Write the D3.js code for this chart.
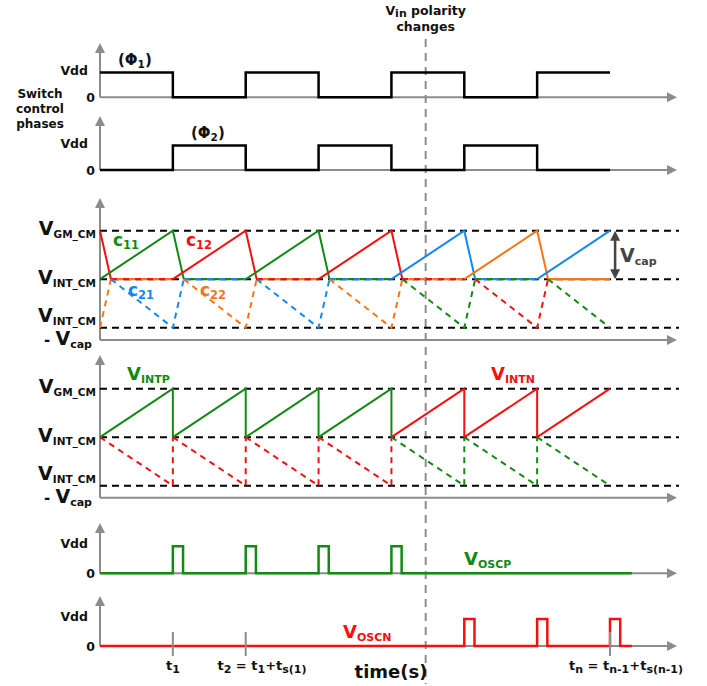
<!DOCTYPE html>
<html><head><meta charset="utf-8">
<script src="https://cdn.jsdelivr.net/npm/d3@7"></script>
<style>body{margin:0;background:#fff} svg{display:block} text{font-family:"DejaVu Sans",sans-serif;font-weight:bold}</style>
</head><body><svg id="c" width="707" height="686"></svg>
<script>
// ---------------- data ----------------
const tEnd = 7;
const phi1Levels = [1,0,1,0,1,0,1];
const phi2Levels = [0,1,0,1,0,1,0];
const capUpperInit = "c12";
const capLowerInit = "c22";
const capUpperSeries = ["c11","c12","c11","c12","c21","c22","c21"];
const capLowerSeries = ["c21","c22","c21","c22","c11","c12","c11"];
const capIdleSeries = [["c12","c22"],["c21","c11"],["c12","c22"],["c21","c11"],["c12","c22"],["c11","c21"],["c22"]];
const intSeries = ["VINTP","VINTP","VINTP","VINTP","VINTN","VINTN","VINTN"];
const oscpPulses = [1,2,3,4];
const oscnPulses = [5,6,7];
const pulseWidth = 0.14;
const resetWidth = 0.15;
const oscEnd = 7.3;
const polarityChange = 4.47;
const tickTimes = [1,2,7];
const colors = {c11:"#138a13", c12:"#f51010", c21:"#1487f0", c22:"#fa7414", VINTP:"#138a13", VINTN:"#f51010"};
const opposite = {VINTP:"VINTN", VINTN:"VINTP"};

// ---------------- setup ----------------
const svg = d3.select("#c");
const x = d3.scaleLinear().domain([0, tEnd]).range([100, 610]);
const X0 = x(0), XAXIS = 677;
const AX = "#8c8c8c";
const line = d3.line().x(d => x(d[0])).y(d => d[1]);

function rich(x0, y0, anchor, parts, color) {
  const t = svg.append("text").attr("x", x0).attr("y", y0).attr("text-anchor", anchor).attr("fill", color || "#111");
  let shift = 0;
  parts.forEach(p => {
    const target = p.sub ? (p.dy || 3.5) : 0;
    t.append("tspan").attr("font-size", p.s).attr("dy", target - shift).text(p.t);
    shift = target;
  });
  return t;
}
function axes(yAxis, top) {
  svg.append("line").attr("x1", X0).attr("x2", X0).attr("y1", top + 8).attr("y2", yAxis).attr("stroke", AX).attr("stroke-width", 2);
  svg.append("path").attr("d", `M${X0},${top} L${X0-5},${top+10} L${X0+5},${top+10} Z`).attr("fill", AX);
  svg.append("line").attr("x1", X0).attr("x2", XAXIS - 8).attr("y1", yAxis).attr("y2", yAxis).attr("stroke", AX).attr("stroke-width", 2);
  svg.append("path").attr("d", `M${XAXIS},${yAxis} L${XAXIS-10},${yAxis-5} L${XAXIS-10},${yAxis+5} Z`).attr("fill", AX);
}
function path(pts, color, w, dash, offset) {
  const p = svg.append("path").attr("d", line(pts)).attr("fill", "none").attr("stroke", color).attr("stroke-width", w || 2)
    .attr("stroke-linejoin", "miter");
  if (dash) p.attr("stroke-dasharray", dash).attr("stroke-dashoffset", offset || 0);
  return p;
}

// polarity dashed line (behind)
svg.append("line").attr("x1", x(polarityChange)).attr("x2", x(polarityChange)).attr("y1", 39).attr("y2", 684)
  .attr("stroke", "#8c8c8c").attr("stroke-width", 2).attr("stroke-dasharray", "8,6");
rich(x(polarityChange), 15, "middle", [{t:"V", s:12.5}, {t:"in", s:11, sub:true, dy:2}, {t:" polarity", s:12.5}], "#111");
rich(x(polarityChange), 31, "middle", [{t:"changes", s:12.5}], "#111");

// ---------------- switch phases ----------------
function squareWave(levels, y0, y1) {
  const ys = d3.scaleLinear().domain([0, 1]).range([y0, y1]);
  const pts = [];
  levels.forEach((lv, k) => { pts.push([k, ys(lv)]); pts.push([k + 1, ys(lv)]); });
  path(pts, "#000", 2.5);
}
const sw = [{levels: phi1Levels, y0: 97.3, y1: 72.5, top: 43, name: "1", lx: 118, ly: 65},
            {levels: phi2Levels, y0: 170, y1: 145.5, top: 116, name: "2", lx: 191, ly: 138}];
sw.forEach(p => {
  axes(p.y0, p.top);
  squareWave(p.levels, p.y0, p.y1);
  rich(88, p.y1 + 2, "end", [{t:"Vdd", s:12.5}]);
  rich(95, p.y0 + 4.5, "end", [{t:"0", s:12.5}]);
  rich(p.lx, p.ly, "start", [{t:"(Φ", s:15}, {t:p.name, s:10.5, sub:true, dy:3}, {t:")", s:15}]);
});
["Switch", "control", "phases"].forEach((w, i) =>
  rich(40, 98 + i * 15, "middle", [{t:w, s:12}]));

// ---------------- level axis labels ----------------
function levelLabels(ys) {
  rich(96, ys(1) + 4, "end", [{t:"V", s:19}, {t:"GM_CM", s:10.5, sub:true, dy:3}]);
  rich(96, ys(0) + 4.5, "end", [{t:"V", s:19}, {t:"INT_CM", s:10.5, sub:true, dy:3}]);
  rich(96, ys(-1) - 6, "end", [{t:"V", s:19}, {t:"INT_CM", s:10.5, sub:true, dy:3}]);
  rich(92, ys(-1) + 17, "end", [{t:"- ", s:15}, {t:"V", s:19}, {t:"cap", s:11, sub:true, dy:3}]);
}
function refLines(ys) {
  [1, 0, -1].forEach(v => svg.append("line").attr("x1", X0).attr("x2", 679).attr("y1", ys(v)).attr("y2", ys(v))
    .attr("stroke", "#000").attr("stroke-width", 2).attr("stroke-dasharray", "7,5"));
}

// ---------------- capacitor panel ----------------
const ys3 = d3.scaleLinear().domain([-1, 1]).range([327.7, 230.7]);
axes(340, 198);
refLines(ys3);
levelLabels(ys3);
const D = "6,5";
// idle segments
capIdleSeries.forEach((caps, k) => {
  const pts = [[k + resetWidth, ys3(0)], [k + 1, ys3(0)]];
  if (caps.length === 1) path(pts, colors[caps[0]], 2.2);
  else caps.forEach((c, i) => path(pts, colors[c], 2.2, "6,6", i * 6));
});
// initial segments
path([[0, ys3(1)], [resetWidth, ys3(0)]], colors[capUpperInit], 2);
path([[0, ys3(-1)], [resetWidth, ys3(0)]], colors[capLowerInit], 2, D);
capLowerSeries.forEach((c, k) => {
  const pts = [[k + resetWidth, ys3(0)], [k + 1, ys3(-1)]];
  if (k < tEnd - 1) pts.push([k + 1 + resetWidth, ys3(0)]);
  path(pts, colors[c], 2, D);
});
capUpperSeries.forEach((c, k) => {
  const pts = [[k, ys3(0)], [k + 1, ys3(1)]];
  if (k < tEnd - 1) pts.push([k + 1 + resetWidth, ys3(0)]);
  path(pts, colors[c], 2);
});
rich(113, 246, "start", [{t:"c", s:17}, {t:"11", s:11.5, sub:true, dy:3}], colors.c11);
rich(186, 246, "start", [{t:"c", s:17}, {t:"12", s:11.5, sub:true, dy:3}], colors.c12);
rich(128, 296, "start", [{t:"c", s:17}, {t:"21", s:11.5, sub:true, dy:3}], colors.c21);
rich(200, 296, "start", [{t:"c", s:17}, {t:"22", s:11.5, sub:true, dy:3}], colors.c22);
// Vcap arrow
const vx = x(7.07);
svg.append("line").attr("x1", vx).attr("x2", vx).attr("y1", ys3(1) + 6).attr("y2", ys3(0) - 6).attr("stroke", "#444").attr("stroke-width", 2.5);
svg.append("path").attr("d", `M${vx},${ys3(1)} L${vx-5},${ys3(1)+10} L${vx+5},${ys3(1)+10} Z`).attr("fill", "#444");
svg.append("path").attr("d", `M${vx},${ys3(0)} L${vx-5},${ys3(0)-10} L${vx+5},${ys3(0)-10} Z`).attr("fill", "#444");
rich(620, 262, "start", [{t:"V", s:19}, {t:"cap", s:11, sub:true, dy:3}], "#444");

// ---------------- integrator panel ----------------
const ys4 = d3.scaleLinear().domain([-1, 1]).range([485.7, 388.7]);
axes(497.7, 355);
refLines(ys4);
levelLabels(ys4);
intSeries.forEach((s, k) => {
  const lo = [[k, ys4(0)], [k + 1, ys4(-1)]];
  if (k < tEnd - 1) lo.push([k + 1, ys4(0)]);
  path(lo, colors[opposite[s]], 2, D);
});
intSeries.forEach((s, k) => {
  const up = [[k, ys4(0)], [k + 1, ys4(1)]];
  if (k < tEnd - 1) up.push([k + 1, ys4(0)]);
  path(up, colors[s], 2);
});
rich(127, 380, "start", [{t:"V", s:18}, {t:"INTP", s:11, sub:true, dy:3}], colors.VINTP);
rich(491, 380, "start", [{t:"V", s:18}, {t:"INTN", s:11, sub:true, dy:3}], colors.VINTN);

// ---------------- oscillator outputs ----------------
function pulseTrain(pulses, y0, y1, color) {
  const pts = [[0, y0]];
  pulses.forEach(t => { pts.push([t, y0], [t, y1], [t + pulseWidth, y1], [t + pulseWidth, y0]); });
  pts.push([oscEnd, y0]);
  path(pts, color, 2.5);
}
axes(573.3, 523);
pulseTrain(oscpPulses, 573.3, 546.3, colors.VINTP);
rich(88, 548, "end", [{t:"Vdd", s:12.5}]);
rich(95, 578, "end", [{t:"0", s:12.5}]);
rich(464, 565, "start", [{t:"V", s:18}, {t:"OSCP", s:11, sub:true, dy:3}], colors.VINTP);

axes(646, 596);
pulseTrain(oscnPulses, 646, 619, colors.VINTN);
rich(88, 621, "end", [{t:"Vdd", s:12.5}]);
rich(95, 651, "end", [{t:"0", s:12.5}]);
rich(343, 638, "start", [{t:"V", s:18}, {t:"OSCN", s:11, sub:true, dy:3}], colors.VINTN);

// ticks
tickTimes.forEach(t => svg.append("line").attr("x1", x(t)).attr("x2", x(t)).attr("y1", 632).attr("y2", 656)
  .attr("stroke", AX).attr("stroke-width", 2));
rich(x(1), 670, "middle", [{t:"t", s:13}, {t:"1", s:11, sub:true, dy:3}]);
rich(262, 670, "middle", [{t:"t", s:13}, {t:"2", s:11, sub:true, dy:3}, {t:" = t", s:13}, {t:"1", s:11, sub:true, dy:3}, {t:"+t", s:13}, {t:"s(1)", s:11, sub:true, dy:3}]);
rich(626, 670, "middle", [{t:"t", s:13}, {t:"n", s:11, sub:true, dy:3}, {t:" = t", s:13}, {t:"n-1", s:11, sub:true, dy:3}, {t:"+t", s:13}, {t:"s(n-1)", s:11, sub:true, dy:3}]);
rich(391, 678, "middle", [{t:"time(s)", s:18}]);
</script></body></html>
